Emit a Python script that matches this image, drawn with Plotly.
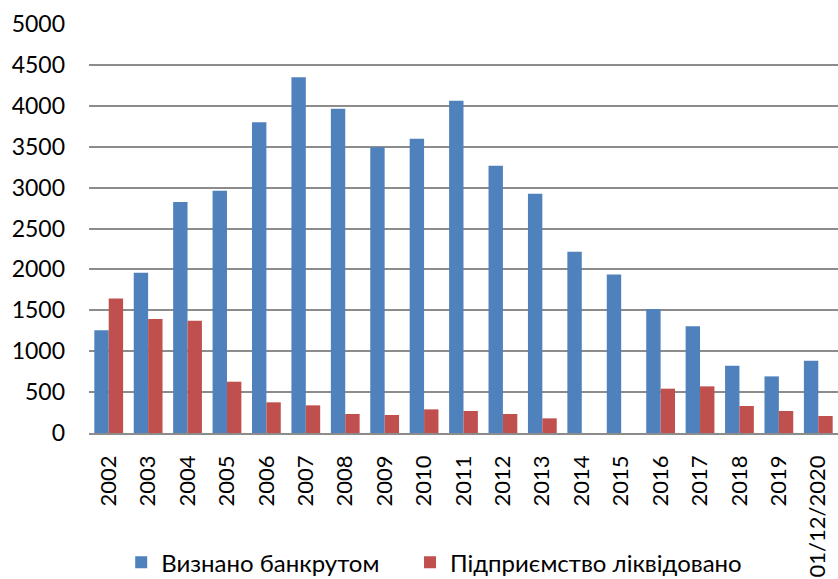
import plotly.graph_objects as go

categories = ["2002", "2003", "2004", "2005", "2006", "2007", "2008", "2009", "2010",
              "2011", "2012", "2013", "2014", "2015", "2016", "2017", "2018", "2019",
              "01/12/2020"]
bankrupt = [1255, 1960, 2825, 2962, 3800, 4350, 3965, 3492, 3598, 4063, 3268, 2926,
            2217, 1939, 1516, 1304, 823, 692, 884]
liquidated = [1645, 1394, 1373, 627, 375, 338, 232, 220, 289, 269, 232, 179,
              0, 0, 542, 570, 330, 269, 208]
y_ticks = [0, 500, 1000, 1500, 2000, 2500, 3000, 3500, 4000, 4500, 5000]

FONT = "Lato, 'Open Sans', sans-serif"

fig = go.Figure()
fig.add_trace(go.Bar(x=categories, y=bankrupt, name="Визнано банкрутом", legend="legend",
                     marker=dict(color="#4F81BD", line=dict(width=0))))
fig.add_trace(go.Bar(x=categories, y=liquidated, name="Підприємство ліквідовано",
                     legend="legend2",
                     marker=dict(color="#C0504D", line=dict(width=0))))

legend_common = dict(orientation="h", xanchor="left", y=-0.317, yanchor="middle",
                     font=dict(family=FONT, size=24, color="black"),
                     itemwidth=30, bgcolor="rgba(0,0,0,0)")

fig.update_layout(
    width=838, height=579,
    margin=dict(l=89, r=0, t=24, b=146, autoexpand=False),
    paper_bgcolor="white", plot_bgcolor="white",
    barmode="group", bargap=0.27, bargroupgap=0,
    font=dict(family=FONT, size=23, color="black"),
    showlegend=True,
    legend=dict(x=0.043, **legend_common),
    legend2=dict(x=0.4286, **legend_common),
)
fig.update_yaxes(range=[0, 5000], tickvals=y_ticks, showgrid=True, automargin=False,
                 gridcolor="#8C8C8C", gridwidth=1.5, zeroline=False,
                 showline=False, ticks="", ticklabelstandoff=23,
                 tickfont=dict(family=FONT, size=23, color="black"))
fig.update_xaxes(type="category", tickangle=-90, showline=True, linecolor="#8C8C8C",
                 linewidth=1.5, ticks="", ticklabelstandoff=12, automargin=False,
                 tickfont=dict(family=FONT, size=22, color="black"))

fig.write_html("out.html", config={"displayModeBar": False},
               post_script="document.body.style.margin='0';")
